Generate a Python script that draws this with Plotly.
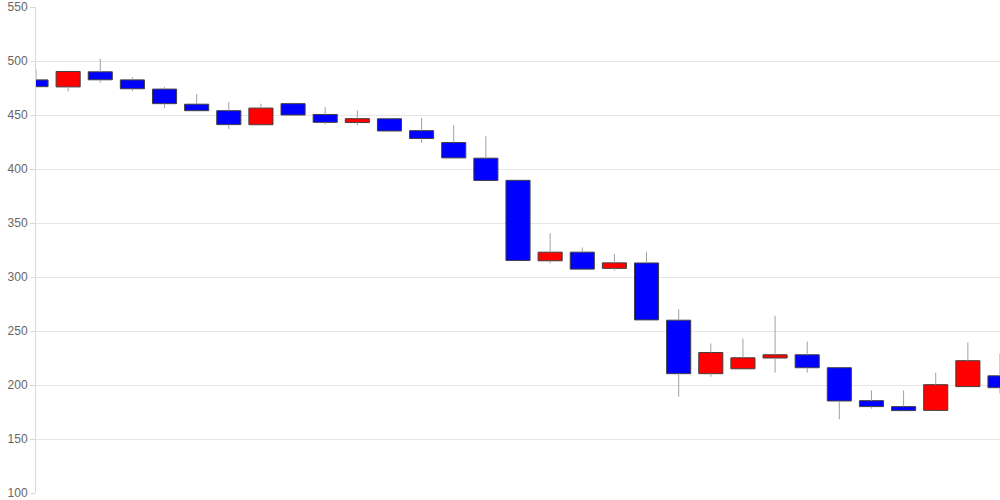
import plotly.graph_objects as go

opens  = [482.5, 476, 490, 482.5, 474, 460, 454, 441, 460.5, 450.5,
          443, 446.5, 435.5, 424.5, 410, 389.5, 315, 323, 308, 313,
          260, 210.5, 215, 225, 228, 216, 185.5, 180, 176.5, 198.5, 208.5]
highs  = [492, 490.3, 502, 485, 476, 469.4, 461.7, 460.5, 461.7, 457.4,
          454.3, 447.6, 447.2, 440.5, 430.3, 389.5, 340.5, 327.3, 321.4, 323.3,
          270, 238.4, 243, 264.2, 240.2, 216, 195, 195, 211.4, 239.3, 229.2]
lows   = [476, 472, 480, 472, 456.4, 453.4, 437.1, 440.2, 450, 441.4,
          440.5, 435, 424.2, 410, 389.4, 315, 312.5, 307, 306, 260,
          189.2, 207.7, 215, 211.4, 211.4, 168.3, 178.1, 176, 176.3, 198.5, 192]
closes = [476.2, 490.3, 482.6, 474.3, 460.5, 454, 441.1, 456.4, 450, 443.2,
          446.6, 435.2, 428.2, 410.3, 389.4, 315.3, 323, 307.3, 313.1, 260.3,
          210.5, 230.1, 225.2, 228, 216, 185.2, 180, 176.3, 200.3, 222.5, 197.5]
y_ticks = [100, 150, 200, 250, 300, 350, 400, 450, 500, 550]

idx = list(range(len(opens)))

bases = [min(o, c) for o, c in zip(opens, closes)]
tops = [max(o, c) for o, c in zip(opens, closes)]
heights = [t - b for t, b in zip(tops, bases)]
colors = ["#ff0000" if c > o else "#0000ff" for o, c in zip(opens, closes)]

# wicks: lower (low -> body bottom) and upper (body top -> high)
wx, wy = [], []
for i in idx:
    if lows[i] < bases[i]:
        wx += [i, i, None]
        wy += [lows[i], bases[i], None]
    if highs[i] > tops[i]:
        wx += [i, i, None]
        wy += [tops[i], highs[i], None]

fig = go.Figure()
fig.add_trace(go.Bar(x=idx, y=heights, base=bases, width=0.75,
                     marker=dict(color=colors, line=dict(color="#404040", width=1)),
                     showlegend=False))
fig.add_trace(go.Scatter(x=wx, y=wy, mode="lines",
                         line=dict(color="#a0a0a0", width=1),
                         hoverinfo="skip", showlegend=False))

fig.update_layout(
    width=1000, height=500,
    margin=dict(l=36, r=0, t=6, b=6),
    paper_bgcolor="white", plot_bgcolor="white",
    showlegend=False,
    font=dict(family="Liberation Sans, Arial, sans-serif", size=12, color="#666666"),
)
fig.update_xaxes(range=[0, len(opens) - 1], showticklabels=False, showgrid=False,
                 zeroline=False, showline=False, ticks="")
fig.update_yaxes(range=[100, 550], tickvals=y_ticks, showgrid=True,
                 gridcolor="#e6e6e6", gridwidth=1, zeroline=False,
                 showline=True, linecolor="#d9d9d9", linewidth=1,
                 ticks="outside", ticklen=5, tickcolor="#d9d9d9",
                 ticklabeloverflow="allow",
                 tickfont=dict(size=12, color="#666666"))

fig.write_html("out.html", config={"displayModeBar": False},
               post_script="document.body.style.margin='0';document.body.style.overflow='hidden';")
